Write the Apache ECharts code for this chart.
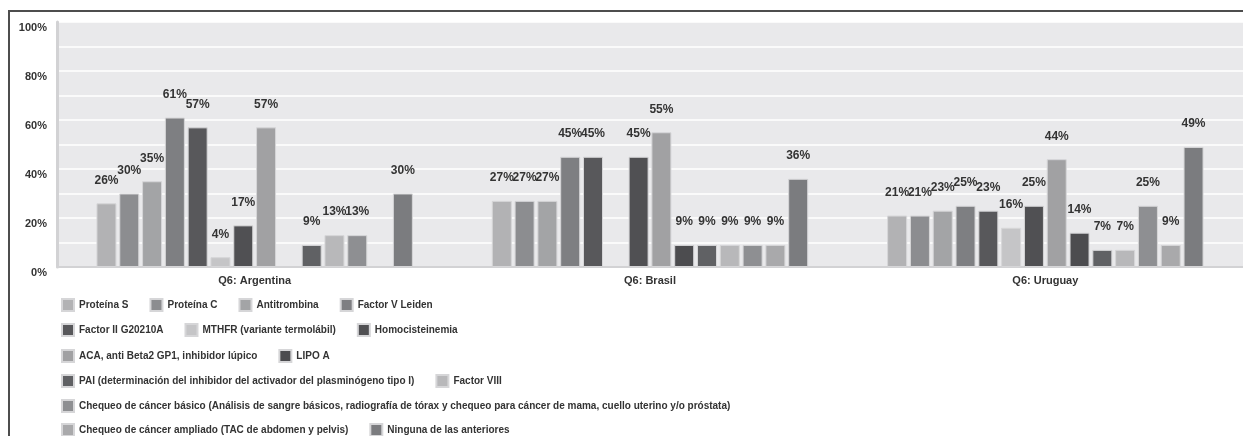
<!DOCTYPE html>
<html>
<head>
<meta charset="utf-8">
<script src="https://cdn.jsdelivr.net/npm/echarts@6/dist/echarts.min.js"></script>
<style>
html,body{margin:0;padding:0;background:#fff;}
#c{width:1243px;height:436px;}
</style>
</head>
<body>
<div id="c"></div>
<script>
const categories = ['Q6: Argentina', 'Q6: Brasil', 'Q6: Uruguay'];
const seriesNames = [
  'Proteína S',
  'Proteína C',
  'Antitrombina',
  'Factor V Leiden',
  'Factor II G20210A',
  'MTHFR (variante termolábil)',
  'Homocisteinemia',
  'ACA, anti Beta2 GP1, inhibidor lúpico',
  'LIPO A',
  'PAI (determinación del inhibidor del activador del plasminógeno tipo I)',
  'Factor VIII',
  'Chequeo de cáncer básico (Análisis de sangre básicos, radiografía de tórax y chequeo para cáncer de mama, cuello uterino y/o próstata)',
  'Chequeo de cáncer ampliado (TAC de abdomen y pelvis)',
  'Ninguna de las anteriores'
];
// values per country, in series order (null = no bar)
const argentina = [26, 30, 35, 61, 57, 4, 17, 57, null, 9, 13, 13, null, 30];
const brasil    = [27, 27, 27, 45, 45, null, 45, 55, 9, 9, 9, 9, 9, 36];
const uruguay   = [21, 21, 23, 25, 23, 16, 25, 44, 14, 7, 7, 25, 9, 49];
const yTicks = [0, 20, 40, 60, 80, 100];

const colors = ['#b2b2b4','#8c8d90','#a3a4a6','#7e7f82','#58585b','#c5c5c7','#505053',
                '#a1a1a3','#4c4c4f','#606164','#b8b8ba','#8e8f92','#a9a9ab','#7b7c7f'];

const legendRows = [
  [0,1,2,3],
  [4,5,6],
  [7,8],
  [9,10],
  [11],
  [12,13]
];
const legendTops = [298, 323, 349, 374, 399, 423];

const FONT = '"Liberation Sans", Arial, sans-serif';

const chart = echarts.init(document.getElementById('c'), null, {renderer: 'canvas'});

const series = seriesNames.map((name, i) => ({
  name: name,
  type: 'bar',
  barWidth: 20,
  barGap: '14%',
  data: [argentina[i], brasil[i], uruguay[i]],
  itemStyle: {color: colors[i], borderColor: '#d6d6d8', borderWidth: 1},
  label: {
    show: true,
    position: 'top',
    distance: 17,
    formatter: p => (p.value == null ? '' : p.value + '%'),
    fontFamily: FONT,
    fontWeight: 'bold',
    fontSize: 12,
    color: '#333'
  }
}));

const legends = legendRows.map((row, r) => ({
  data: row.map(i => seriesNames[i]),
  left: 61,
  top: legendTops[r],
  orient: 'horizontal',
  padding: 0,
  itemWidth: 12,
  itemHeight: 12,
  itemGap: 21,
  icon: 'rect',
  selectedMode: false,
  textStyle: {fontFamily: FONT, fontWeight: 'bold', fontSize: 10, color: '#333'}
}));

chart.setOption({
  animation: false,
  backgroundColor: '#fff',
  grid: {left: 57, top: 22, width: 1197, height: 245, show: true, backgroundColor: '#e9e9eb', borderWidth: 0},
  legend: legends,
  xAxis: {
    type: 'category',
    data: categories,
    axisTick: {show: false},
    axisLine: {show: true, lineStyle: {color: '#d2d2d4', width: 2}},
    axisLabel: {fontFamily: FONT, fontWeight: 'bold', fontSize: 11, color: '#333', margin: 8}
  },
  yAxis: {
    type: 'value',
    min: 0, max: 100, interval: 10,
    axisLine: {show: true, lineStyle: {color: '#d2d2d4', width: 3}},
    axisTick: {show: false},
    splitLine: {lineStyle: {color: '#ffffff', width: 1.5}},
    axisLabel: {
      formatter: v => (yTicks.indexOf(v) >= 0 ? v + '%' : ''),
      fontFamily: FONT, fontWeight: 'bold', fontSize: 11, color: '#333',
      margin: 10, verticalAlign: 'top'
    }
  },
  graphic: [{
    type: 'rect',
    shape: {x: 9, y: 11, width: 1400, height: 600},
    style: {fill: 'none', stroke: '#4d4d4d', lineWidth: 2},
    silent: true
  }],
  series: series
});
</script>
</body>
</html>
